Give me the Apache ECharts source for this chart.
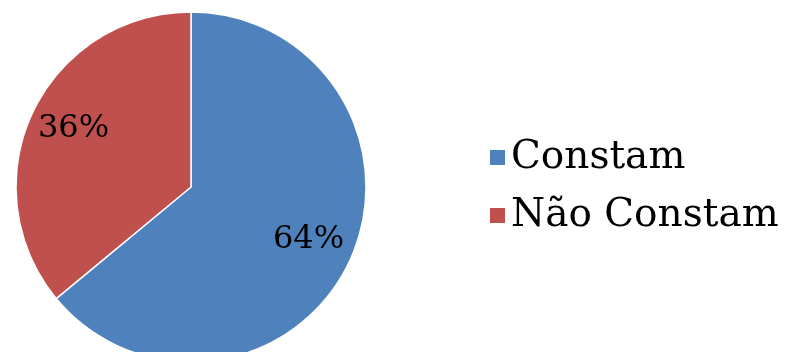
<!DOCTYPE html>
<html>
<head>
<meta charset="utf-8">
<script src="https://cdn.jsdelivr.net/npm/echarts@6/dist/echarts.min.js"></script>
<style>
  html, body { margin: 0; padding: 0; background: #fff; }
  #chart { width: 785px; height: 352px; }
</style>
</head>
<body>
<div id="chart"></div>
<script>
var categories = ['Constam', 'Não Constam'];
var values = [64, 36];
var colors = ['#4F81BD', '#C0504D'];

var pieData = [];
var labelData = [];
for (var i = 0; i < categories.length; i++) {
    pieData.push({ name: categories[i], value: values[i], itemStyle: { color: colors[i] } });
    labelData.push({ name: categories[i], value: values[i] });
}

var chart = echarts.init(document.getElementById('chart'));
var R = 175;
var option = {
    animation: false,
    legend: {
        orient: 'vertical',
        left: 483,
        top: 133,
        icon: 'rect',
        itemWidth: 17,
        itemHeight: 17,
        itemGap: 19,
        textStyle: { fontFamily: 'DejaVu Serif', fontSize: 39, color: '#000' },
        data: categories.map(function (c, i) {
            return { name: c, itemStyle: { color: colors[i] } };
        })
    },
    series: [{
        // the visible pie
        type: 'pie',
        center: [191, 187],
        radius: [0, R],
        startAngle: 90,
        clockwise: true,
        silent: true,
        label: { show: false },
        labelLine: { show: false },
        itemStyle: { borderColor: '#fff', borderWidth: 1.5 },
        data: pieData
    }, {
        // transparent overlay, only places the % labels further out
        type: 'pie',
        center: [191, 184],
        radius: [0, R * 1.45],
        startAngle: 90,
        clockwise: true,
        silent: true,
        itemStyle: { color: 'rgba(0,0,0,0)' },
        label: {
            show: true,
            position: 'inside',
            formatter: '{c}%',
            fontFamily: 'DejaVu Serif',
            fontSize: 32,
            color: '#000'
        },
        labelLine: { show: false },
        data: labelData
    }]
};
chart.setOption(option);
</script>
</body>
</html>
